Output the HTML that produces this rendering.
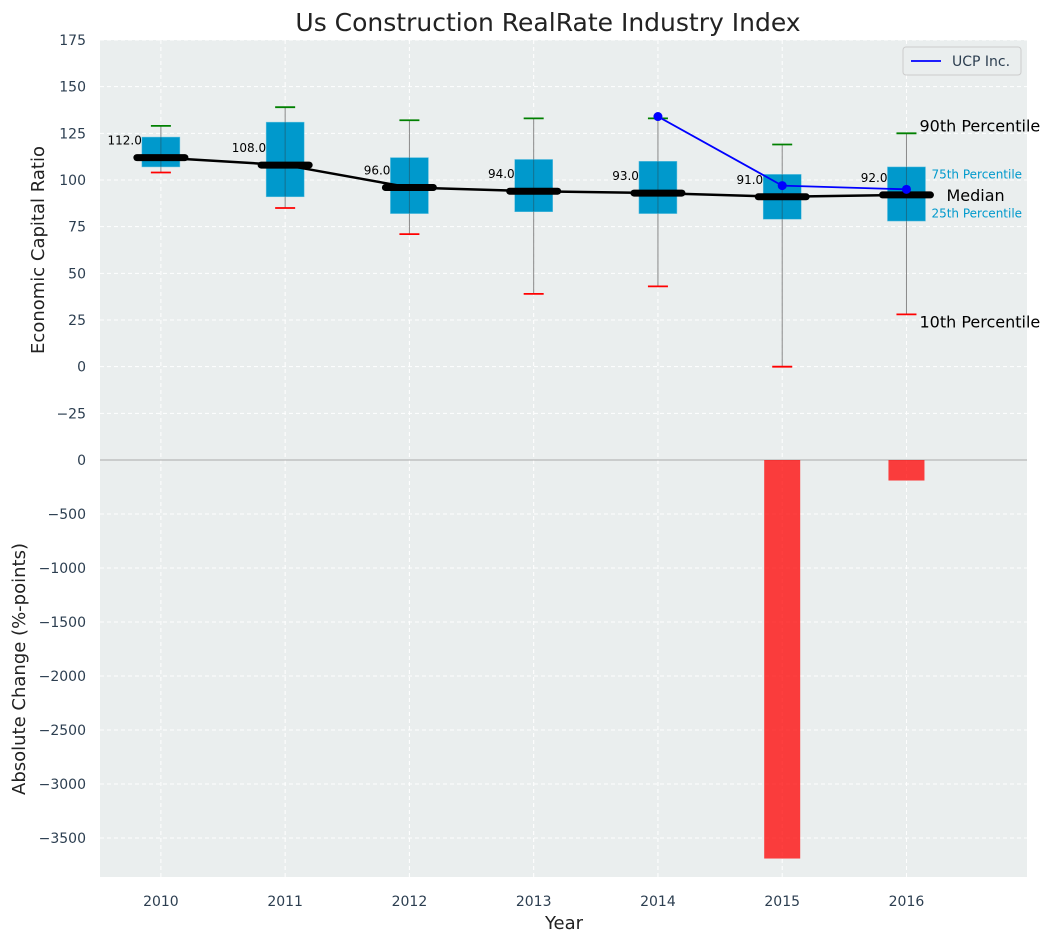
<!DOCTYPE html>
<html><head><meta charset="utf-8"><style>
body{margin:0;background:#fff;font-family:"Liberation Sans","DejaVu Sans",sans-serif;}
svg text{font-family:"DejaVu Sans","Liberation Sans",sans-serif;}
</style></head><body>
<svg id="c" width="1054" height="942" xmlns="http://www.w3.org/2000/svg"></svg>
<script>
const years=[2010,2011,2012,2013,2014,2015,2016];
const p10=[104,85,71,39,43,0,28];
const p25=[107,91,82,83,82,79,78];
const med=[112,108,96,94,93,91,92];
const p75=[123,131,112,111,110,103,107];
const p90=[129,139,132,133,133,119,125];
const ucpYears=[2014,2015,2016];
const ucp=[134,97,95];
const chgYears=[2015,2016];
const chg=[-3690,-190];
const topTicks=[-25,0,25,50,75,100,125,150,175];
const botTicks=[-3500,-3000,-2500,-2000,-1500,-1000,-500,0];

const NS="http://www.w3.org/2000/svg",svg=document.getElementById('c');
function el(t,a,p){const e=document.createElementNS(NS,t);for(const k in a)e.setAttribute(k,a[k]);(p||svg).appendChild(e);return e;}
const L=100,R=1027,T=40,M=460,B=877;
const x=v=>L+(v-2009.51)/(2016.97-2009.51)*(R-L);
const yt=v=>T+(175-v)/(175+50)*(M-T);
const yb=v=>M+(0-v)/(3861)*(B-M);
let e;
e=el('rect',{x:L,y:T,width:R-L,height:M-T,fill:'#eaeeee'});
e=el('rect',{x:L,y:M,width:R-L,height:B-M,fill:'#eaeeee'});
years.forEach(yv=>{el('line',{x1:x(yv),x2:x(yv),y1:T,y2:B,stroke:'#fff','stroke-dasharray':'4,3','stroke-width':1});});
topTicks.forEach(v=>{el('line',{x1:L,x2:R,y1:yt(v),y2:yt(v),stroke:'#fff','stroke-dasharray':'4,3'});
 e=el('text',{x:L-14,y:yt(v)+5,'text-anchor':'end','font-size':14,fill:'#2c3e50'});e.textContent=v<0?'\u2212'+(-v):v;});
botTicks.forEach(v=>{el('line',{x1:L,x2:R,y1:yb(v),y2:yb(v),stroke:'#fff','stroke-dasharray':'4,3'});
 e=el('text',{x:L-14,y:yb(v)+5,'text-anchor':'end','font-size':14,fill:'#2c3e50'});e.textContent=v<0?'\u2212'+(-v):v;});
el('line',{x1:L,x2:R,y1:M,y2:M,stroke:'#aaa','stroke-width':1});
years.forEach(yv=>{e=el('text',{x:x(yv),y:B+29,'text-anchor':'middle','font-size':14,fill:'#2c3e50'});e.textContent=yv;});
years.forEach((yv,i)=>{const cx=x(yv);
 el('line',{x1:cx,x2:cx,y1:yt(p90[i]),y2:yt(p10[i]),stroke:'#888','stroke-width':1});
 e=el('rect',{x:cx-19,y:yt(p75[i]),width:38,height:yt(p25[i])-yt(p75[i]),fill:'#0099cc',stroke:'#66c2e0','stroke-width':0.5});
 el('line',{x1:cx,x2:cx,y1:yt(p75[i]),y2:yt(p25[i]),stroke:'#333','stroke-opacity':0.4,'stroke-width':1});
 el('line',{x1:cx-10,x2:cx+10,y1:yt(p90[i]),y2:yt(p90[i]),stroke:'green','stroke-width':1.8});
 el('line',{x1:cx-10,x2:cx+10,y1:yt(p10[i]),y2:yt(p10[i]),stroke:'red','stroke-width':1.8});
});
e=el('polyline',{points:years.map((yv,i)=>x(yv)+','+yt(med[i])).join(' '),fill:'none',stroke:'#000','stroke-width':2.5});
years.forEach((yv,i)=>{const cx=x(yv);
 e=el('line',{x1:cx-24,x2:cx+24,y1:yt(med[i]),y2:yt(med[i]),stroke:'#000','stroke-width':7,'stroke-linecap':'round'});
 e=el('text',{x:cx-19,y:yt(med[i])-13,'text-anchor':'end','font-size':12,fill:'#000'});e.textContent=med[i].toFixed(1);
});
e=el('polyline',{points:ucpYears.map((yv,i)=>x(yv)+','+yt(ucp[i])).join(' '),fill:'none',stroke:'#0000ff','stroke-width':1.8});
ucpYears.forEach((yv,i)=>{e=el('circle',{cx:x(yv),cy:yt(ucp[i]),r:4.5,fill:'#0000ff'});});
chgYears.forEach((yv,i)=>{e=el('rect',{x:x(yv)-18,y:yb(0),width:36,height:yb(chg[i])-yb(0),fill:'#ff0000','fill-opacity':0.75});});
const ax=x(2016);
[['90th Percentile',ax+13,yt(125)-2,16,'#000'],['10th Percentile',ax+13,yt(28)+13,16,'#000'],['75th Percentile',ax+25,yt(103)+4,12,'#0099cc'],['25th Percentile',ax+25,yt(82)+4,12,'#0099cc'],['Median',ax+40,yt(92)+6,16,'#000']].forEach(a=>{e=el('text',{x:a[1],y:a[2],'font-size':a[3],fill:a[4]});e.textContent=a[0];});
const lg=el('g',{});
el('rect',{x:903,y:47,width:118,height:28,rx:3,fill:'#eaeeee',stroke:'#ccc'},lg);
el('line',{x1:911,x2:941,y1:61,y2:61,stroke:'#0000ff','stroke-width':1.8},lg);
e=el('text',{x:952,y:66,'font-size':14,fill:'#2c3e50'},lg);e.textContent='UCP Inc.';
e=el('text',{x:548,y:31,'text-anchor':'middle','font-size':25,fill:'#222'});e.textContent='Us Construction RealRate Industry Index';
e=el('text',{x:564,y:929,'text-anchor':'middle','font-size':18,fill:'#222'});e.textContent='Year';
e=el('text',{x:0,y:0,'text-anchor':'middle','font-size':18,fill:'#222',transform:'translate(44,250) rotate(-90)'});e.textContent='Economic Capital Ratio';
e=el('text',{x:0,y:0,'text-anchor':'middle','font-size':18,fill:'#222',transform:'translate(25,669) rotate(-90)'});e.textContent='Absolute Change (%-points)';
</script>
</body></html>
